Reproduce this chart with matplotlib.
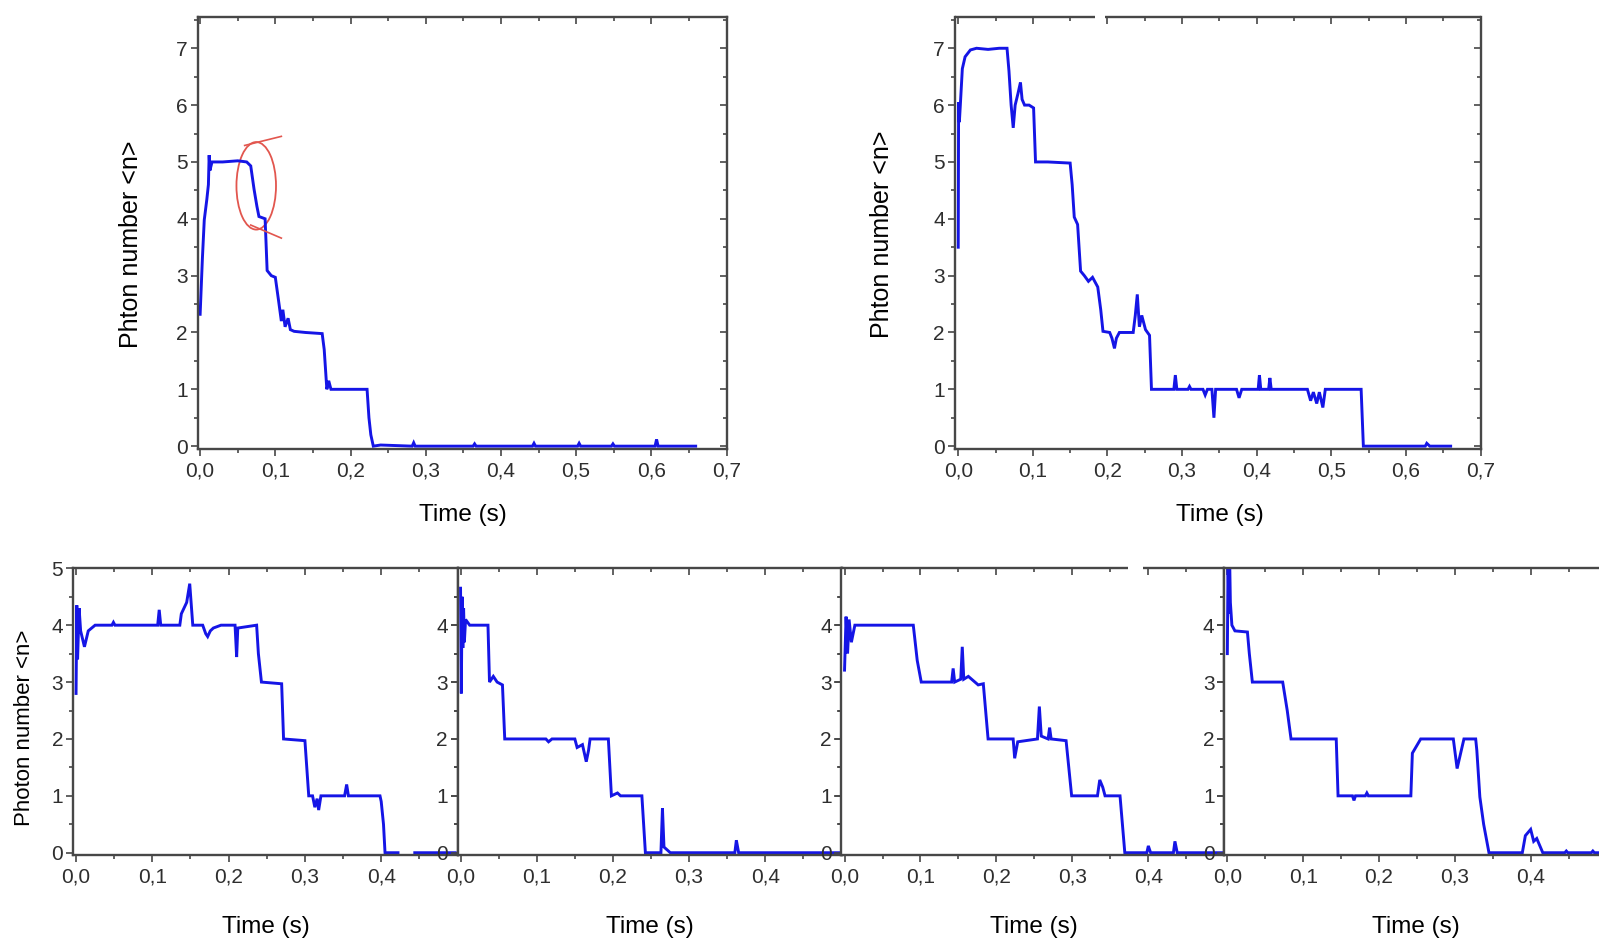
import numpy as np
import matplotlib
matplotlib.use('Agg')
import matplotlib.pyplot as plt
from matplotlib.patches import Ellipse
from matplotlib.ticker import MultipleLocator, FixedLocator, FuncFormatter

plt.rcParams['font.family'] = ['Liberation Sans', 'DejaVu Sans']

# photon-number traces, (time in s, <n>) read point by point
trace_top_left = [
    (0.000, 2.32), (0.003, 3.30), (0.0055, 3.98), (0.0089, 4.34), (0.011, 4.60),
    (0.012, 5.12), (0.013, 4.85), (0.0158, 5.00), (0.030, 5.00), (0.050, 5.02),
    (0.0619, 5.00), (0.0673, 4.93), (0.0717, 4.52), (0.0755, 4.22), (0.0782, 4.04),
    (0.0864, 4.00), (0.0891, 3.09), (0.0946, 3.00), (0.100, 2.97), (0.1043, 2.56),
    (0.108, 2.20), (0.110, 2.40), (0.113, 2.10), (0.117, 2.25), (0.120, 2.05),
    (0.125, 2.02), (0.140, 2.00), (0.1623, 1.98), (0.165, 1.70), (0.1685, 1.00),
    (0.171, 1.15), (0.174, 1.00), (0.200, 1.00), (0.222, 1.00), (0.2245, 0.50),
    (0.227, 0.20), (0.2303, 0.00), (0.240, 0.02), (0.282, 0.00), (0.284, 0.06),
    (0.286, 0.00), (0.363, 0.00), (0.365, 0.04), (0.367, 0.00), (0.442, 0.00),
    (0.444, 0.05), (0.446, 0.00), (0.502, 0.00), (0.504, 0.05), (0.506, 0.00),
    (0.547, 0.00), (0.549, 0.04), (0.551, 0.00), (0.605, 0.00), (0.607, 0.12),
    (0.609, 0.00), (0.659, 0.00),
]

trace_top_right = [
    (0.000, 3.50), (0.0005, 6.05), (0.0015, 5.70), (0.0028, 6.00), (0.0055, 6.64),
    (0.0092, 6.85), (0.0163, 6.97), (0.0245, 7.00), (0.040, 6.98), (0.055, 7.00),
    (0.0654, 7.00), (0.068, 6.60), (0.0709, 6.00), (0.0737, 5.60), (0.0763, 6.00),
    (0.080, 6.20), (0.0834, 6.40), (0.0856, 6.10), (0.0889, 6.00), (0.095, 6.00),
    (0.101, 5.95), (0.1036, 5.00), (0.120, 5.00), (0.150, 4.98), (0.1527, 4.60),
    (0.1555, 4.03), (0.160, 3.90), (0.164, 3.08), (0.169, 3.00), (0.1745, 2.90),
    (0.180, 2.97), (0.187, 2.80), (0.191, 2.40), (0.194, 2.02), (0.203, 2.00),
    (0.206, 1.90), (0.2094, 1.72), (0.212, 1.90), (0.216, 2.00), (0.2345, 2.00),
    (0.2373, 2.30), (0.240, 2.67), (0.2428, 2.10), (0.246, 2.30), (0.251, 2.05),
    (0.2564, 1.95), (0.259, 1.00), (0.289, 1.00), (0.291, 1.25), (0.293, 1.00),
    (0.308, 1.00), (0.310, 1.05), (0.312, 1.00), (0.328, 1.00), (0.331, 0.90),
    (0.334, 1.00), (0.340, 1.00), (0.3427, 0.50), (0.345, 1.00), (0.373, 1.00),
    (0.3764, 0.85), (0.380, 1.00), (0.402, 1.00), (0.4037, 1.25), (0.4055, 1.00),
    (0.416, 1.00), (0.4177, 1.20), (0.4195, 1.00), (0.468, 1.00), (0.4723, 0.80),
    (0.476, 0.95), (0.4805, 0.75), (0.484, 0.95), (0.4887, 0.68), (0.492, 1.00),
    (0.540, 1.00), (0.543, 0.00), (0.626, 0.00), (0.628, 0.05), (0.632, 0.00),
    (0.660, 0.00),
]

trace_a = [
    (0.000, 2.80), (0.001, 4.35), (0.002, 3.40), (0.004, 4.30), (0.006, 3.90),
    (0.011, 3.62), (0.016, 3.90), (0.025, 4.00), (0.047, 4.00), (0.049, 4.05),
    (0.051, 4.00), (0.107, 4.00), (0.109, 4.27), (0.111, 4.00), (0.136, 4.00),
    (0.138, 4.20), (0.145, 4.40), (0.149, 4.73), (0.153, 4.00), (0.166, 4.00),
    (0.170, 3.85), (0.1725, 3.80), (0.176, 3.90), (0.180, 3.95), (0.190, 4.00),
    (0.2084, 4.00), (0.2105, 3.44), (0.212, 3.95), (0.2367, 4.00), (0.239, 3.50),
    (0.243, 3.00), (0.2695, 2.97), (0.272, 2.00), (0.300, 1.97), (0.305, 1.00),
    (0.310, 1.00), (0.313, 0.80), (0.316, 0.95), (0.318, 0.75), (0.321, 1.00),
    (0.352, 1.00), (0.3547, 1.20), (0.357, 1.00), (0.3984, 1.00), (0.400, 0.90),
    (0.403, 0.50), (0.405, 0.00), (0.422, 0.00), (0.433, np.nan), (0.444, 0.00),
    (0.497, 0.00),
]

trace_b = [
    (0.000, 4.65), (0.001, 2.80), (0.002, 4.50), (0.003, 3.60), (0.004, 4.30),
    (0.005, 3.70), (0.0066, 4.10), (0.012, 4.00), (0.036, 4.00), (0.038, 3.00),
    (0.043, 3.10), (0.048, 3.00), (0.055, 2.95), (0.058, 2.00), (0.112, 2.00),
    (0.1155, 1.95), (0.120, 2.00), (0.150, 2.00), (0.153, 1.85), (0.160, 1.90),
    (0.165, 1.60), (0.168, 1.80), (0.170, 2.00), (0.194, 2.00), (0.198, 1.00),
    (0.206, 1.05), (0.210, 1.00), (0.238, 1.00), (0.2426, 0.00), (0.263, 0.00),
    (0.265, 0.78), (0.267, 0.10), (0.2753, 0.00), (0.360, 0.00), (0.362, 0.22),
    (0.365, 0.00), (0.500, 0.00),
]

trace_c = [
    (0.000, 3.21), (0.002, 4.15), (0.004, 3.50), (0.006, 4.10), (0.009, 3.70),
    (0.0136, 4.00), (0.0905, 4.00), (0.0927, 3.74), (0.0957, 3.38), (0.101, 3.00),
    (0.141, 3.00), (0.143, 3.24), (0.145, 3.00), (0.153, 3.05), (0.155, 3.62),
    (0.157, 3.05), (0.163, 3.10), (0.176, 2.95), (0.1827, 2.97), (0.189, 2.00),
    (0.222, 2.00), (0.224, 1.66), (0.228, 1.95), (0.254, 2.00), (0.2565, 2.57),
    (0.259, 2.05), (0.268, 2.00), (0.270, 2.20), (0.272, 2.00), (0.2917, 1.97),
    (0.299, 1.00), (0.333, 1.00), (0.336, 1.28), (0.340, 1.15), (0.343, 1.00),
    (0.3627, 1.00), (0.369, 0.00), (0.398, 0.00), (0.400, 0.12), (0.403, 0.00),
    (0.433, 0.00), (0.435, 0.20), (0.438, 0.00), (0.500, 0.00),
]

trace_d = [
    (0.000, 3.50), (0.001, 5.20), (0.002, 4.20), (0.003, 5.20), (0.004, 4.40),
    (0.006, 4.00), (0.010, 3.90), (0.0265, 3.88), (0.029, 3.50), (0.033, 3.00),
    (0.073, 3.00), (0.079, 2.50), (0.084, 2.00), (0.1436, 2.00), (0.146, 1.00),
    (0.165, 1.00), (0.167, 0.92), (0.169, 1.00), (0.182, 1.00), (0.184, 1.05),
    (0.186, 1.00), (0.242, 1.00), (0.244, 1.75), (0.255, 2.00), (0.298, 2.00),
    (0.303, 1.48), (0.312, 2.00), (0.3275, 2.00), (0.329, 1.80), (0.333, 0.98),
    (0.338, 0.50), (0.345, 0.00), (0.389, 0.00), (0.393, 0.30), (0.400, 0.41),
    (0.404, 0.20), (0.408, 0.25), (0.416, 0.00), (0.445, 0.00), (0.447, 0.03),
    (0.449, 0.00), (0.480, 0.00), (0.482, 0.03), (0.484, 0.00), (0.500, 0.00),
]

top_xticks = [0.0, 0.1, 0.2, 0.3, 0.4, 0.5, 0.6, 0.7]
top_yticks = [0, 1, 2, 3, 4, 5, 6, 7]
bottom_xticks = [0.0, 0.1, 0.2, 0.3, 0.4]

LINE = '#1515e6'
FRAME = '#474747'
MARK = '#e2564e'

W, H = 1599, 941


def rect(x0, y0, x1, y1):
    # pixel box (top-left origin) -> figure fraction
    return [x0 / W, 1 - y1 / H, (x1 - x0) / W, (y1 - y0) / H]


def comma(x, _):
    return f'{x:.1f}'.replace('.', ',')


def style(ax, xticks, yticks, fs=15):
    ax.xaxis.set_major_locator(FixedLocator(xticks))
    ax.xaxis.set_minor_locator(FixedLocator([t + 0.05 for t in xticks] + [xticks[0] - 0.05]))
    ax.xaxis.set_major_formatter(FuncFormatter(comma))
    ax.yaxis.set_major_locator(FixedLocator(yticks))
    ax.yaxis.set_minor_locator(MultipleLocator(0.5))
    ax.tick_params(which='both', top=True, right=True, color=FRAME, width=1.2)
    ax.tick_params(axis='x', which='major', direction='out', length=5, pad=4, labelsize=fs)
    ax.tick_params(axis='x', which='minor', direction='out', length=3)
    ax.tick_params(axis='y', which='major', direction='out', length=5, pad=2, labelsize=fs)
    ax.tick_params(axis='y', which='minor', direction='out', length=3)
    # ticks on top and right point into the frame
    for t in ax.xaxis.get_major_ticks() + ax.xaxis.get_minor_ticks():
        t.tick2line.set_marker(3)
    for t in ax.yaxis.get_major_ticks() + ax.yaxis.get_minor_ticks():
        t.tick2line.set_marker(0)
    for s in ax.spines.values():
        s.set_color(FRAME)
        s.set_linewidth(1.7)
    ax.tick_params(labelcolor='#2e2e2e')


def broken_top(ax, g0, g1):
    ax.spines['top'].set_visible(False)
    for a, b in ((0, g0), (g1, 1)):
        ax.plot([a, b], [1, 1], transform=ax.transAxes, color=FRAME, lw=1.7,
                clip_on=False, solid_capstyle='butt', zorder=5)


def trace(ax, pts):
    t, n = zip(*pts)
    ax.plot(t, n, color=LINE, lw=2.1, solid_joinstyle='miter')


fig = plt.figure(figsize=(W / 100, H / 100), dpi=100)
fig.patch.set_facecolor('white')

# upper pair
ax1 = fig.add_axes(rect(197.5, 17, 726.5, 449))
trace(ax1, trace_top_left)
ax1.set_xlim(-0.0035, 0.7)
ax1.set_ylim(-0.05, 7.55)
style(ax1, top_xticks, top_yticks)
ax1.set_ylabel('Phton number <n>', fontsize=18, va='center')
ax1.yaxis.set_label_coords(-0.125, 0.475)
ax1.set_xlabel('Time (s)', fontsize=17.5, va='center')
ax1.xaxis.set_label_coords(0.502, -0.153)
ax1.add_patch(Ellipse((0.0746, 4.58), 0.0526, 1.54, fill=False, ec=MARK, lw=1.3))
ax1.plot([0.0592, 0.108], [5.29, 5.45], color=MARK, lw=1.2)
ax1.plot([0.0673, 0.108], [3.89, 3.66], color=MARK, lw=1.2)

ax2 = fig.add_axes(rect(954.5, 17, 1480.5, 449))
trace(ax2, trace_top_right)
ax2.set_xlim(-0.005, 0.7)
ax2.set_ylim(-0.05, 7.55)
style(ax2, top_xticks, top_yticks)
broken_top(ax2, 0.267, 0.286)
ax2.set_ylabel('Phton number <n>', fontsize=18, va='center')
ax2.yaxis.set_label_coords(-0.137, 0.496)
ax2.set_xlabel('Time (s)', fontsize=17.5, va='center')
ax2.xaxis.set_label_coords(0.504, -0.153)

# lower strip of four runs sharing frame edges
lower = [
    (trace_a, 73.0, 457.5, [0, 1, 2, 3, 4, 5]),
    (trace_b, 457.5, 841.5, [0, 1, 2, 3, 4]),
    (trace_c, 841.5, 1224.3, [0, 1, 2, 3, 4]),
    (trace_d, 1224.3, 1606.5, [0, 1, 2, 3, 4]),
]
for i, (pts, x0, x1, yt) in enumerate(lower):
    ax = fig.add_axes(rect(x0, 568.3, x1, 855))
    trace(ax, pts)
    ax.set_xlim(-0.004, 0.5)
    ax.set_ylim(-0.04, 5.0)
    style(ax, bottom_xticks, yt)
    ax.yaxis.set_minor_locator(FixedLocator([0.5, 1.5, 2.5, 3.5, 4.5]))
    ax.set_xlabel('Time (s)', fontsize=17.5, va='center')
    ax.xaxis.set_label_coords(0.502, -0.25)
    if i == 0:
        ax.set_ylabel('Photon number <n>', fontsize=16, va='center')
        ax.yaxis.set_label_coords(-0.125, 0.445)
    if i == 2:
        broken_top(ax, 0.749, 0.788)

fig.savefig('out.png', dpi=100, facecolor='white')
